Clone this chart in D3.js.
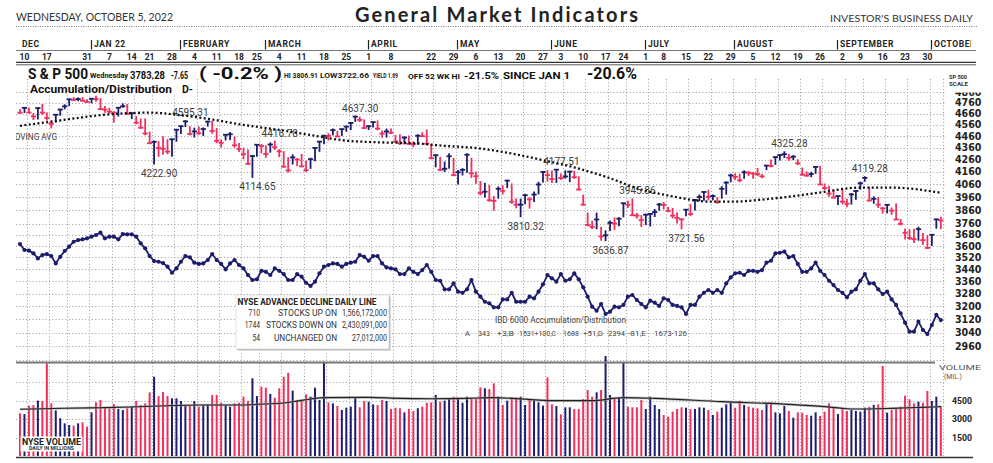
<!DOCTYPE html>
<html><head><meta charset="utf-8">
<script src="https://cdn.jsdelivr.net/npm/d3@7"></script>
<style>body{margin:0;background:#fff}svg{display:block}</style>
</head><body>
<svg id="c" width="993" height="463"></svg>
<script>
// ---------------- DATA ----------------
const startDate = "2021-12-09";
const holidays = ["2021-12-24","2022-01-17","2022-02-21","2022-04-15","2022-05-30","2022-06-20","2022-07-04","2022-09-05"];
const prevClose = 4701.21;
const highs = [
4695,4713,4710,4660,4712,4743,4666,4591,4651,4698,
4740,4791.5,4807,4804,4808,4787,4797,4819,4798,4725,
4708,4673,4714,4749,4744,4666,4632,4611,4612,4494,
4417,4411,4453,4428,4432,4516,4547,4595.31,4542,4529,
4540,4531,4590,4588,4527,4427,4472,4490,4452,4395,
4356,4340,4295,4385,4388,4375,4401,4416.78,4343,4327,
4276,4299,4268,4303,4247,4271,4358,4412,4465,4481,
4522,4501,4521,4546,4576,4637.30,4628,4603,4550,4583,
4593,4503,4521,4521,4464,4471,4453,4460,4410,4471,
4489,4513,4385,4299,4278,4240,4308,4269,4169,4185,
4308,4271,4157,4081,4067,4050,3964,4038,4047,4090,
4063,3945,3944,3981,3955,3999,4075,4159,4169,4166,
4177.51,4142,4168,4164,4165,4119,3974,3838,3778,3837,
3733,3707,3779,3801,3802,3913,3928,3945.86,3836,3819,
3829,3832,3865,3910,3918,3880,3873,3839,3796,3864,
3902,3940,3975,4000,4012,3976,3954,4040,4079,4140,
4144,4140,4167,4161,4152,4186,4138,4211,4257,4281,
4301,4325.28,4302,4293,4258,4190,4159,4156,4200,4204,
4062,4044,4015,3970,4018,3942,3987,4010,4076,4119.28,
4037,3961,3956,3880,3900,3876,3907,3790,3720,3716,
3718,3733,3687,3671,3680,3791,3806.91];
const lows = [
4665,4670,4667,4606,4611,4650,4600,4531,4583,4645,
4703,4733,4780,4778,4775,4765,4758,4774,4699,4671,
4663,4582,4638,4718,4651,4614,4568,4530,4471,4395,
4222.90,4287,4304,4309,4288,4415,4483,4544,4470,4451,
4475,4465,4547,4484,4402,4365,4426,4429,4364,4327,
4267,4222,4114.65,4287,4315,4279,4322,4345,4284,4199,
4157,4223,4209,4200,4161,4187,4251,4329,4393,4425,
4470,4455,4465,4502,4517,4589,4588,4529,4517,4539,
4514,4450,4451,4481,4408,4387,4392,4391,4367,4390,
4455,4385,4267,4200,4174,4162,4189,4128,4062,4134,
4156,4114,4067,3976,3959,3928,3859,3951,3984,4033,
3911,3877,3810.32,3909,3875,3925,3984,4077,4084,4074,
4074,4098,4109,4080,4107,4017,3900,3743,3724,3722,
3640,3636.87,3710,3717,3744,3810,3880,3820,3800,3738,
3752,3742,3812,3859,3869,3847,3802,3765,3721.56,3818,
3818,3860,3930,3935,3938,3937,3911,3951,3982,4079,
4097,4079,4107,4129,4107,4128,4112,4177,4201,4220,
4256,4277,4253,4260,4218,4130,4124,4120,4147,4057,
4017,3965,3954,3903,3907,3886,3906,3942,4022,4084,
3931,3912,3880,3838,3839,3828,3789,3750,3648,3644,
3623,3640,3610,3584,3603,3726,3722.66];
const closes = [
4667.45,4712.02,4668.97,4634.09,4709.85,4668.67,4620.64,4568.02,4649.23,4696.56,
4725.79,4791.19,4786.35,4793.06,4778.73,4766.18,4796.56,4793.54,4700.58,4696.05,
4677.03,4670.29,4713.07,4726.35,4659.03,4662.85,4577.11,4532.76,4482.73,4397.94,
4410.13,4356.45,4349.93,4326.51,4431.85,4515.55,4546.54,4589.38,4477.44,4500.53,
4483.87,4521.54,4587.18,4504.08,4418.64,4401.67,4471.07,4475.01,4380.26,4348.87,
4304.76,4225.50,4288.70,4384.65,4373.94,4306.26,4386.54,4363.49,4328.87,4201.09,
4170.70,4277.88,4259.52,4204.31,4173.11,4262.45,4357.86,4411.67,4463.12,4461.18,
4511.61,4456.24,4520.16,4543.06,4575.52,4631.60,4602.45,4530.41,4545.86,4582.64,
4525.12,4481.15,4500.21,4488.28,4412.53,4397.45,4446.59,4392.59,4391.69,4462.21,
4459.45,4393.66,4271.78,4296.12,4175.20,4183.96,4287.50,4131.93,4155.38,4175.48,
4300.17,4146.87,4123.34,3991.24,4001.05,3935.18,3930.08,4023.89,4008.01,4088.85,
3923.68,3900.79,3901.36,3973.75,3941.48,3978.73,4057.84,4158.24,4132.15,4101.23,
4176.82,4108.54,4121.43,4160.68,4115.77,4017.82,3900.86,3749.63,3735.48,3789.99,
3666.77,3674.84,3764.79,3759.89,3795.73,3911.74,3900.11,3821.55,3818.83,3785.38,
3825.33,3831.39,3845.08,3902.62,3899.38,3854.43,3818.80,3801.78,3790.38,3863.16,
3830.85,3936.69,3959.90,3998.95,3961.63,3966.84,3921.05,4023.61,4072.43,4130.29,
4118.63,4091.19,4155.17,4151.94,4145.19,4140.06,4122.47,4210.24,4207.27,4280.15,
4297.14,4305.20,4274.04,4283.74,4228.48,4137.99,4128.73,4140.77,4199.12,4057.66,
4030.61,3986.16,3955.00,3966.85,3924.26,3908.19,3979.87,4006.18,4067.36,4110.41,
3932.69,3946.01,3901.35,3873.33,3899.89,3855.93,3789.93,3757.99,3693.23,3655.04,
3647.29,3719.04,3640.47,3585.62,3678.43,3790.93,3783.28];
const volumes = [
3460,3400,4080,4130,4490,4460,7520,4270,3700,3060,
2650,2510,2460,2650,2730,2380,3540,4350,4540,3950,
3870,4220,3810,3730,3870,4050,4460,4130,4270,5160,
6430,4860,5190,4860,4680,4680,4460,4130,4080,4460,
4000,4130,4190,4950,4950,4320,4130,4000,4270,4320,
4810,4460,6300,4860,5620,5540,5030,4730,5490,6430,
6750,5300,4540,4540,5000,4810,5540,4540,7650,4350,
4270,4050,3730,3920,4000,4730,3950,4460,4400,4190,
4130,4540,4460,3810,3920,3870,3540,3810,3650,3870,
4000,4320,4350,4950,4400,4490,4620,4810,4730,4320,
4810,4730,4680,5570,5490,5430,5890,4810,4135,4486,
4756,4756,4810,4135,4622,4486,4351,4081,6378,4189,
4054,3379,3946,3946,3811,3811,4622,5351,4810,5162,
5351,8108,4946,4622,4730,7594,4000,3946,3946,4540,
3811,4810,4135,3811,3324,3189,3594,3811,3946,3919,
3784,3811,3946,3919,3730,3324,3594,3919,4189,4351,
3919,4486,4135,4000,3919,3865,3730,4270,4351,3541,
3460,4054,3649,3108,3541,3514,3324,3270,3541,3243,
3594,4270,3919,3405,3811,3649,3730,3649,3594,3919,
4000,4135,4189,7297,3514,3730,3865,4000,4892,4595,
4270,4405,4324,5270,4459,4810,4054];
// NYSE advance-decline line, read against the right-hand scale
const adLine = [
3613,3571,3566,3548,3513,3536,3543,3529,3479,3524,
3564,3594,3629,3641,3646,3653,3665,3677,3694,3653,
3665,3665,3646,3684,3682,3682,3665,3618,3583,
3529,3495,3490,3481,3457,3416,3445,3490,3529,3520,
3484,3475,3479,3502,3543,3502,3475,3439,3479,3502,
3468,3445,3401,3368,3373,3429,3422,3401,3445,3429,
3407,3368,3368,3407,3390,3350,3329,3357,3412,3457,
3468,3479,3475,3457,3475,3484,3490,3536,3524,3497,
3529,3529,3479,3452,3445,3439,3407,3407,3445,3422,
3407,3434,3468,3422,3368,3363,3307,3307,3346,3292,
3285,3307,3368,3292,3260,3228,3218,3193,3193,
3243,3243,3285,3228,3228,3228,3260,3250,3292,3340,
3401,3379,3357,3407,3363,3373,3412,3373,3320,3260,
3197,3172,3214,3152,3166,3197,3193,3208,3260,3271,
3239,3214,3193,3235,3222,3202,3250,3239,3208,3202,
3193,3152,3208,3208,3260,3285,3303,3285,3303,3285,
3346,3385,3412,3416,3401,3429,3429,3422,
3434,3484,3497,3548,3552,3559,3520,3529,3475,3422,
3422,3445,3484,3429,3401,3363,3335,3303,3285,3256,
3292,3307,3363,3407,3346,3346,3307,3277,3292,3243,
3208,3156,3099,3045,3045,3105,3055,3031,3085,3146,
3115];
// moving averages (day index, value)
const maDays = [0,7,14,21,29,36,43,50,58,65,73,80,88,95,102,110,117,124,131,139,146,154,160,166,172,180,187,195,206];
const maValues = [4550,4587,4626,4656,4668,4645,4606,4558,4513,4469,4420,4406,4398,4375,4357,4310,4255,4195,4120,4018,3965,3925,3925,3940,3962,4000,4032,4033,3993];
const volMaDays = [0,10,18,25,33,40,48,55,59,63,68,78,85,92,100,106,120,128,135,142,157,172,180,184,187,195,202,206];
const volMaValues = [3786,3867,3916,3973,4078,4135,4135,4216,4297,4513,4730,4757,4676,4648,4676,4730,4486,4486,4730,4676,4405,4189,4000,3865,3811,3865,3946,4000];
const priceTicks = [4860,4760,4660,4560,4460,4360,4260,4160,4060,3960,3860,3760,3680,3600,3520,3440,3360,3280,3200,3120,3040,2960];
const priceGridExtra = [2880];
const volTicks = [4500,3000,1500];
const volGrid = [6000,4500,3000,1500];
const peakDays = [37,30,57,52,75,112,120,137,131,148,171,189];
const peakKinds = ["hi","lo","hi","lo","hi","lo","hi","hi","lo","lo","hi","hi"];
const monthNames = ["JAN 22","FEBRUARY","MARCH","APRIL","MAY","JUNE","JULY","AUGUST","SEPTEMBER","OCTOBER","NOVEMBER","DEC"];
const adRowCounts = ["710","1744","54"];
const adRowLabels = ["STOCKS  UP ON","STOCKS  DOWN ON","UNCHANGED ON"];
const adRowVolumes = ["1,566,172,000","2,430,091,000","27,012,000"];
const ibdPieces = ["A","343","+3,B","1531+100,C","1688","+51,D","2394","-81,E","1673-126"];

// ---------------- CHART ----------------
const NAVY = "#1c1d6b", RED = "#f0305d", GRID = "#9c9c9c";
const svg = d3.select("#c");
svg.append("rect").attr("width",993).attr("height",463).attr("fill","#fff");

function tradingDays(start, n, hol){
  const out=[]; const hs=new Set(hol); let d=new Date(start+"T00:00:00Z");
  while(out.length<n){const w=d.getUTCDay(); const iso=d.toISOString().slice(0,10);
    if(w!==0&&w!==6&&!hs.has(iso)) out.push(new Date(d)); d.setUTCDate(d.getUTCDate()+1);}
  return out;
}
const N = closes.length;
const dates = tradingDays(startDate, N, holidays);
const x = d3.scaleLinear().domain([0, N-1]).range([20, 940.8]);
const yP = d3.scaleLog().domain([2960, 4860]).range([346.2, 92]);
const yV = d3.scaleLinear().domain([0, 7500]).range([456, 363.5]);
const up = closes.map((c,i)=> c >= (i ? closes[i-1] : prevClose));

function txt(g,s,xx,yy,o={}){
  const t=g.append("text").attr("x",xx).attr("y",yy).text(s)
    .attr("font-family",o.ff||"Roboto, sans-serif").attr("font-size",o.fs||10)
    .attr("font-weight",o.fw||"normal").attr("fill",o.fill||"#222");
  if(o.anchor) t.attr("text-anchor",o.anchor);
  if(o.len) t.attr("textLength",o.len).attr("lengthAdjust",o.adj||"spacingAndGlyphs");
  if(o.ls) t.attr("letter-spacing",o.ls);
  return t;
}

svg.append("clipPath").attr("id","plotclip").append("rect").attr("x",16).attr("y",0).attr("width",930).attr("height",463);
const plot = svg.append("g").attr("clip-path","url(#plotclip)");

// grid
const grid = plot.append("g").attr("stroke",GRID).attr("stroke-width",1).attr("stroke-dasharray","1 2.3");
priceTicks.concat(priceGridExtra).forEach(v=>{
  const yy=Math.round(yP(v))+0.5;
  grid.append("line").attr("x1",16).attr("x2",946).attr("y1",yy).attr("y2",yy);
});
volGrid.forEach(v=>{
  const yy=Math.round(yV(v))+0.5;
  grid.append("line").attr("x1",16).attr("x2",946).attr("y1",yy).attr("y2",yy);
});
const weekEnds=[];
for(let i=0;i<N;i++){ if(i===N-1 || dates[i+1].getUTCDay() <= dates[i].getUTCDay()) weekEnds.push(i); }
weekEnds.forEach(i=>{
  const xx=Math.round(x(i+0.5))+0.5;
  grid.append("line").attr("x1",xx).attr("x2",xx).attr("y1",79).attr("y2",456);
});

// volume bars
plot.append("g").selectAll("rect").data(volumes).join("rect")
  .attr("x",(d,i)=>x(i)-1).attr("width",2)
  .attr("y",d=>yV(d)).attr("height",d=>yV(0)-yV(d))
  .attr("fill",(d,i)=>up[i]?NAVY:RED);
// volume MA
const volMaPts = volMaDays.map((d,k)=>[x(d), yV(volMaValues[k])]);
const lineM = d3.line().curve(d3.curveMonotoneX);
plot.append("path").attr("d",lineM(volMaPts)).attr("fill","none").attr("stroke","#9a9a9a").attr("stroke-width",2.6).attr("opacity",0.6);
plot.append("path").attr("d",lineM(volMaPts)).attr("fill","none").attr("stroke","#222").attr("stroke-width",1.1);

// price bars
const bars = plot.append("g").attr("stroke-width",1.8);
closes.forEach((c,i)=>{
  const col = up[i]?NAVY:RED, xx=x(i);
  bars.append("line").attr("x1",xx).attr("x2",xx).attr("y1",yP(highs[i])-0.5).attr("y2",yP(lows[i])+0.5).attr("stroke",col);
  bars.append("line").attr("x1",xx-2.6).attr("x2",xx+2.6).attr("y1",yP(c)).attr("y2",yP(c)).attr("stroke",col);
});

// peak labels
peakDays.forEach((i,k)=>{
  const hi = peakKinds[k]==="hi";
  const v = hi?highs[i]:lows[i];
  txt(plot, v.toFixed(2), x(i)+5, hi? yP(v)-4.5 : yP(v)+13, {fs:10, fill:"#3c3c3c", anchor:"middle"});
});

// moving avg label (left part runs off the plot edge, as in the print)
txt(plot,"50-DAY MOVING AVG",57,140,{fs:8.5,fill:"#444",anchor:"end",len:78});

// price moving average (dotted)
const maPts = maDays.map((d,k)=>[x(d), yP(maValues[k])]);
plot.append("path").attr("d",lineM(maPts)).attr("fill","none").attr("stroke","#111")
  .attr("stroke-width",2.3).attr("stroke-dasharray","2 2.4");

// A/D line
const adPts = adLine.map((v,i)=>[x(i), yP(v)]);
plot.append("path").attr("d",d3.line()(adPts)).attr("fill","none").attr("stroke",NAVY).attr("stroke-width",1.8);
plot.append("g").selectAll("circle").data(adPts).join("circle").attr("cx",d=>d[0]).attr("cy",d=>d[1]).attr("r",2.1).attr("fill",NAVY);

// NYSE A/D box
svg.append("rect").attr("x",237.5).attr("y",296.5).attr("width",153).attr("height",54).attr("fill","#b8b8b8");
svg.append("rect").attr("x",236).attr("y",295).attr("width",153).attr("height",54).attr("fill","#fff").attr("stroke","#d0d0d0").attr("stroke-width",0.6);
txt(svg,"NYSE ADVANCE DECLINE DAILY LINE",237.5,305,{fs:8.5,fw:"bold",fill:"#222",len:139});
const rowY=[315.5,328,340.5];
const midLen=[59,71,63], volLen=[45,45,35];
adRowCounts.forEach((s,k)=>{
  txt(svg,s,260,rowY[k],{fs:8.5,fill:"#333",anchor:"end",len:s.length*3.8});
  txt(svg,adRowLabels[k],337,rowY[k],{fs:8.5,fill:"#333",anchor:"end",len:midLen[k]});
  txt(svg,adRowVolumes[k],387,rowY[k],{fs:8.5,fill:"#333",anchor:"end",len:volLen[k]});
});

// IBD 6000 text
txt(svg,"IBD 6000 Accumulation/Distribution",495,322.7,{fs:9,fill:"#444",len:131});
const ibdX=[465,478,497,519,563,583,608,628,654], ibdW=[5,12,17,37,16,20,17,18,33];
ibdPieces.forEach((s,k)=> txt(svg,s,ibdX[k],336,{fs:7.8,fill:"#444",len:ibdW[k]}));

// volume panel frame
svg.append("line").attr("x1",16).attr("x2",935).attr("y1",362.5).attr("y2",362.5).attr("stroke","#777").attr("stroke-width",1.8);
svg.append("line").attr("x1",16).attr("x2",973).attr("y1",457.5).attr("y2",457.5).attr("stroke","#333").attr("stroke-width",1.6);
// NYSE volume box
svg.append("rect").attr("x",20.5).attr("y",436.5).attr("width",62).attr("height",15).attr("fill","#fff");
txt(svg,"NYSE VOLUME",22,444.8,{fs:9.5,fw:"bold",fill:"#222",len:59});
txt(svg,"DAILY IN MILLIONS",29,450,{fs:4.6,fw:"bold",fill:"#333",len:45});

// right axis
priceTicks.forEach(v=> txt(svg,v,955,yP(v)+3.7,{ff:"'DejaVu Sans', sans-serif",fs:10,fw:"bold",fill:"#222",len:26.5}));
svg.append("rect").attr("x",946).attr("y",72).attr("width",36).attr("height",20.5).attr("fill","#fff");
txt(svg,"SP 500",949,79.3,{fs:6,fw:"bold",fill:"#333",len:18});
txt(svg,"SCALE",949,86,{fs:6,fw:"bold",fill:"#333",len:19});
volTicks.forEach(v=> txt(svg,v,952,yV(v)+3.2,{fs:9,fw:"bold",fill:"#222",len:20}));
txt(svg,"VOLUME",939,369.5,{fs:7.5,fill:"#555",len:42});
txt(svg,"(MIL.)",944,378.5,{fs:7.5,fill:"#555",len:18});

// ---------- header ----------
txt(svg,"WEDNESDAY, OCTOBER 5, 2022",16,20.5,{ff:"Lato, sans-serif",fs:10.5,fill:"#333",len:157});
txt(svg,"General Market Indicators",355,21.5,{ff:"Lato, sans-serif",fs:20,fw:"bold",fill:"#222",len:283,adj:"spacing"});
txt(svg,"INVESTOR'S BUSINESS DAILY",830,21.5,{ff:"Lato, sans-serif",fs:10,fill:"#333",len:143});
svg.append("line").attr("x1",16).attr("x2",978).attr("y1",26.5).attr("y2",26.5).attr("stroke","#777").attr("stroke-dasharray","1 1.4");

// month row
const hdr = svg.append("g");
hdr.append("clipPath").attr("id","hdrclip").append("rect").attr("x",0).attr("y",0).attr("width",971).attr("height",70);
const hdrg = hdr.append("g").attr("clip-path","url(#hdrclip)");
txt(hdrg,"DEC",22,47,{fs:8.5,fw:"bold",fill:"#222",ls:0.6});
let mk=0;
for(let i=1;i<N;i++){
  if(dates[i].getUTCMonth()!==dates[i-1].getUTCMonth()){
    const xx=Math.round(x(i))-0.5;
    hdrg.append("line").attr("x1",xx).attr("x2",xx).attr("y1",40).attr("y2",49.5).attr("stroke","#222").attr("stroke-width",1.2);
    txt(hdrg,monthNames[mk++],xx+2.5,47,{fs:8.5,fw:"bold",fill:"#222",ls:0.6});
  }
}
dates.forEach((d,i)=>{ if(d.getUTCDay()===5) txt(hdrg,d.getUTCDate(),x(i),59.5,{fs:8.5,fw:"bold",fill:"#222",anchor:"middle"}); });
svg.append("line").attr("x1",16).attr("x2",976).attr("y1",50.5).attr("y2",50.5).attr("stroke","#555").attr("stroke-width",0.8);
svg.append("line").attr("x1",16).attr("x2",976).attr("y1",62.3).attr("y2",62.3).attr("stroke","#333").attr("stroke-width",1.2);
svg.append("line").attr("x1",16).attr("x2",976).attr("y1",64.8).attr("y2",64.8).attr("stroke","#333").attr("stroke-width",0.8);

// info row
const last=N-1, chg=closes[last]-closes[last-1];
txt(svg,"S & P 500",28,78.5,{fs:14.5,fw:"bold",fill:"#111",len:60});
txt(svg,"Wednesday",90,78,{fs:7.5,fw:"bold",fill:"#111",len:38});
txt(svg,closes[last].toFixed(2),130,78.5,{fs:10,fw:"bold",fill:"#111",len:35});
txt(svg,chg.toFixed(2),171,78.5,{fs:10,fw:"bold",fill:"#111",len:17});
txt(svg,"( "+(chg/closes[last-1]*100).toFixed(1)+"% )",199,79,{fs:16,fw:"bold",fill:"#111",len:83});
txt(svg,"HI "+highs[last].toFixed(2),284,78,{fs:6.5,fw:"bold",fill:"#222",len:34});
txt(svg,"LOW"+lows[last].toFixed(2),320,78,{fs:6.8,fw:"bold",fill:"#222",len:49});
txt(svg,"YIELD 1.69",373,78,{fs:6.5,fw:"bold",fill:"#222",len:25});
txt(svg,"OFF 52 WK HI",408,78.5,{fs:8,fw:"bold",fill:"#111",len:52});
txt(svg,"-21.5%",464,78.5,{fs:9.5,fw:"bold",fill:"#111",len:35});
txt(svg,"SINCE JAN 1",503,78.5,{fs:9,fw:"bold",fill:"#111",len:67});
txt(svg,"-20.6%",587,79,{fs:17,fw:"bold",fill:"#111",len:50});

// accumulation row
svg.append("rect").attr("x",29).attr("y",82).attr("width",166).attr("height",12).attr("fill","#fff");
txt(svg,"Accumulation/Distribution",30,92.5,{fs:11.5,fw:"bold",fill:"#111",len:142});
txt(svg,"D-",182,92.5,{fs:11.5,fw:"bold",fill:"#111",len:11});
</script>
</body></html>
